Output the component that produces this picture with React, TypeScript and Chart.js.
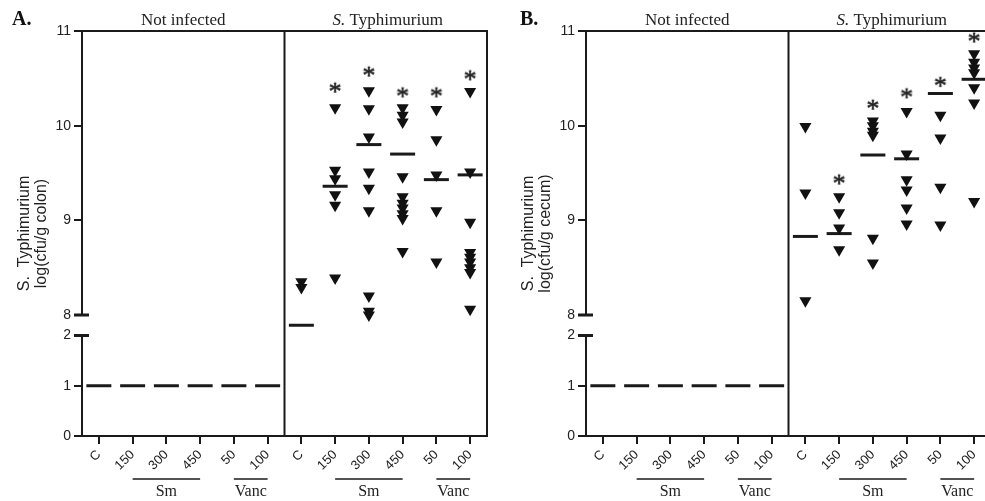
import React, { useEffect, useRef } from 'react';
import { Chart, registerables } from 'chart.js';

Chart.register(...registerables);

// ---------- data ----------
const categories = ['C', '150', '300', '450', '50', '100'];
const xTickLabels = [...categories, ...categories];
const yTickValues = [0, 1, 2, 8, 9, 10, 11];
const yTickLabels = ['0', '1', '2', '8', '9', '10', '11'];
const drugNames = ['Sm', 'Vanc'];
const drugSpans = [[1, 3], [4, 5]];
const groupTitles = ['Not infected', 'Typhimurium'];
const notInfectedMeans = [1, 1, 1, 1, 1, 1];

const colonPoints = [
  [8.35, 8.29],
  [10.19, 9.53, 9.44, 9.27, 9.16, 8.39],
  [10.37, 10.18, 9.88, 9.51, 9.34, 9.1, 8.2, 8.04, 8.0],
  [10.19, 10.11, 10.04, 9.46, 9.25, 9.18, 9.13, 9.07, 9.02, 8.67],
  [10.17, 9.85, 9.48, 9.1, 8.56],
  [10.36, 9.51, 8.98, 8.66, 8.61, 8.56, 8.5, 8.45, 8.06],
];
const colonMeans = [5.0, 9.36, 9.8, 9.7, 9.43, 9.48];
const colonStars = [null, 10.4, 10.57, 10.35, 10.35, 10.53];

const cecumPoints = [
  [9.99, 9.29, 8.15],
  [9.25, 9.08, 8.92, 8.69],
  [10.05, 10.0, 9.94, 9.9, 8.81, 8.55],
  [10.15, 9.7, 9.43, 9.32, 9.13, 8.96],
  [10.11, 9.87, 9.35, 8.95],
  [10.76, 10.67, 10.61, 10.56, 10.4, 10.24, 9.2],
];
const cecumMeans = [8.83, 8.86, 9.69, 9.65, 10.34, 10.49];
const cecumStars = [null, 9.43, 10.22, 10.34, 10.46, 10.93];

// ---------- broken axis transform ----------
const LOW = 0.5308;
const GAP = 0.2165;
function toT(v: number): number {
  if (v <= 2) return v * LOW;
  if (v < 8) return 2 * LOW + ((v - 2) / 6) * GAP;
  return 2 * LOW + GAP + (v - 8);
}
const TOP_T = toT(11);

const INK = '#1a1a1a';
const SANS = '"Liberation Sans", Arial, sans-serif';
const SERIF = '"Liberation Serif", "Times New Roman", serif';

function makeStar(): HTMLCanvasElement {
  const c = document.createElement('canvas');
  c.width = 24;
  c.height = 24;
  const g = c.getContext('2d')!;
  g.font = `26px ${SERIF}`;
  g.fillStyle = '#1a1a1a';
  g.strokeStyle = '#1a1a1a';
  g.lineWidth = 0.6;
  g.textAlign = 'center';
  g.textBaseline = 'alphabetic';
  const m = g.measureText('*');
  const yy = 12 + (m.actualBoundingBoxAscent - m.actualBoundingBoxDescent) / 2;
  g.fillText('*', 12, yy);
  g.strokeText('*', 12, yy);
  return c;
}

function buildDatasets(points: number[][], means: number[], stars: (number | null)[], star: HTMLCanvasElement) {
  const tri: { x: number; y: number }[] = [];
  points.forEach((arr, i) => arr.forEach((v) => tri.push({ x: i + 6, y: toT(v) })));
  const meanPts = means.map((v, i) => ({ x: i + 6, y: toT(v) }));
  const niPts = notInfectedMeans.map((v, i) => ({ x: i, y: toT(v) }));
  const starPts: { x: number; y: number }[] = [];
  stars.forEach((v, i) => {
    if (v != null) starPts.push({ x: i + 6, y: toT(v) });
  });
  const lineStyle = {
    pointStyle: 'line',
    pointRadius: 12.5,
    pointBorderWidth: 3,
    pointBorderColor: INK,
    pointBackgroundColor: INK,
  };
  return [
    {
      data: tri,
      pointStyle: 'triangle',
      pointRotation: 180,
      pointRadius: 7,
      pointBorderWidth: 0,
      pointBackgroundColor: '#111',
      pointBorderColor: '#111',
    },
    { data: meanPts, ...lineStyle },
    { data: niPts, ...lineStyle },
    { data: starPts, pointStyle: star, pointRadius: 5, pointBorderWidth: 0 },
  ];
}

function makeDecor(letter: string, letterX: number, yTitle: string[]) {
  return {
    id: 'decor',
    afterDraw(chart: any) {
      const { ctx, chartArea: ca } = chart;
      const xs = chart.scales.x;
      const ys = chart.scales.y;
      const yp = (v: number) => ys.getPixelForValue(toT(v));
      const xp = (i: number) => xs.getPixelForValue(i);
      const seg = (x1: number, y1: number, x2: number, y2: number) => {
        ctx.beginPath();
        ctx.moveTo(x1, y1);
        ctx.lineTo(x2, y2);
        ctx.stroke();
      };
      ctx.save();
      ctx.strokeStyle = INK;
      ctx.fillStyle = '#222';
      ctx.lineWidth = 2;
      seg(ca.left, ca.top - 1, ca.left, yp(8));
      seg(ca.left, yp(2), ca.left, ca.bottom + 1);
      seg(ca.left, ca.top, ca.right + 1, ca.top);
      seg(ca.left - 1, ca.bottom, ca.right + 1, ca.bottom);
      seg(ca.right, ca.top - 1, ca.right, ca.bottom + 1);
      seg(xp(5.5), ca.top, xp(5.5), ca.bottom);
      ctx.lineWidth = 3;
      [8, 2].forEach((v) => seg(ca.left - 8, yp(v), ca.left + 7, yp(v)));

      // drug group lines and labels
      ctx.lineWidth = 1.5;
      ctx.font = `16px ${SERIF}`;
      ctx.textAlign = 'center';
      ctx.textBaseline = 'alphabetic';
      for (let h = 0; h < 2; h++) {
        drugSpans.forEach(([a, b], k) => {
          const x1 = xp(a + 6 * h);
          const x2 = xp(b + 6 * h);
          seg(x1, 479, x2, 479);
          ctx.fillText(drugNames[k], (x1 + x2) / 2, 496);
        });
      }

      // group titles
      ctx.font = `17px ${SERIF}`;
      ctx.fillText(groupTitles[0], xp(2.5), 25);
      const cx = xp(8.5) + 2;
      ctx.font = `italic 17px ${SERIF}`;
      const w1 = ctx.measureText('S.').width;
      ctx.font = `17px ${SERIF}`;
      const w2 = ctx.measureText(' ' + groupTitles[1]).width;
      const sx = cx - (w1 + w2) / 2;
      ctx.textAlign = 'left';
      ctx.font = `italic 17px ${SERIF}`;
      ctx.fillText('S.', sx, 25);
      ctx.font = `17px ${SERIF}`;
      ctx.fillText(' ' + groupTitles[1], sx + w1, 25);

      // panel letter
      ctx.font = `bold 20px ${SERIF}`;
      ctx.fillStyle = '#111';
      ctx.fillText(letter, letterX, 25);

      // y title
      ctx.fillStyle = '#222';
      ctx.font = `16px ${SANS}`;
      ctx.textAlign = 'center';
      ctx.textBaseline = 'middle';
      const cy = (ca.top + ca.bottom) / 2;
      const offs = [-57, -40];
      yTitle.forEach((t, i) => {
        ctx.save();
        ctx.translate(ca.left + offs[i], cy);
        ctx.rotate(-Math.PI / 2);
        ctx.fillText(t, 0, 0);
        ctx.restore();
      });
      ctx.restore();
    },
  };
}

type PanelProps = {
  left: number;
  width: number;
  axisWidth: number;
  letter: string;
  letterX: number;
  yTitle: string[];
  points: number[][];
  means: number[];
  stars: (number | null)[];
};

function Panel(p: PanelProps) {
  const ref = useRef<HTMLCanvasElement>(null);
  useEffect(() => {
    const canvas = ref.current!;
    const star = makeStar();
    const chart = new Chart(canvas, {
      type: 'scatter',
      data: { datasets: buildDatasets(p.points, p.means, p.stars, star) as any },
      options: {
        responsive: false,
        animation: false,
        events: [],
        layout: { autoPadding: false, padding: { left: 0, right: 6, top: 31, bottom: 0 } },
        plugins: { legend: { display: false }, tooltip: { enabled: false } },
        scales: {
          x: {
            type: 'linear',
            min: -0.5,
            max: 11.5,
            afterBuildTicks: (s: any) => {
              s.ticks = xTickLabels.map((_, i) => ({ value: i }));
            },
            afterFit: (s: any) => {
              s.height = 65;
              s.paddingLeft = 0;
              s.paddingRight = 0;
            },
            border: { display: false },
            grid: { drawOnChartArea: false, drawTicks: true, tickLength: 8, lineWidth: 2, color: INK },
            ticks: {
              autoSkip: false,
              minRotation: 45,
              maxRotation: 45,
              padding: 3,
              color: '#222',
              font: { family: SANS, size: 13 },
              callback: (_v: any, i: number) => xTickLabels[i],
            },
          },
          y: {
            type: 'linear',
            min: 0,
            max: TOP_T,
            afterBuildTicks: (s: any) => {
              s.ticks = yTickValues.map((v) => ({ value: toT(v) }));
            },
            afterFit: (s: any) => {
              s.width = p.axisWidth;
              s.paddingTop = 0;
              s.paddingBottom = 0;
            },
            border: { display: false },
            grid: { drawOnChartArea: false, drawTicks: true, tickLength: 8, lineWidth: 2, color: INK },
            ticks: {
              autoSkip: false,
              padding: 3,
              color: '#222',
              font: { family: SANS, size: 14 },
              callback: (_v: any, i: number) => yTickLabels[i],
            },
          },
        },
      },
      plugins: [makeDecor(p.letter, p.letterX, p.yTitle)],
    } as any);
    return () => chart.destroy();
  }, []);
  return (
    <canvas
      ref={ref}
      width={p.width}
      height={501}
      style={{ position: 'absolute', left: p.left, top: 0, width: p.width, height: 501, display: 'block' }}
    />
  );
}

export default function App() {
  return (
    <div
      style={{
        position: 'fixed',
        left: 0,
        top: 0,
        width: 985,
        height: 501,
        overflow: 'hidden',
        background: '#fff',
      }}
    >
      <Panel
        left={0}
        width={493}
        axisWidth={82}
        letter="A."
        letterX={12}
        yTitle={['S.  Typhimurium', 'log(cfu/g colon)']}
        points={colonPoints}
        means={colonMeans}
        stars={colonStars}
      />
      <Panel
        left={493}
        width={504}
        axisWidth={93}
        letter="B."
        letterX={27}
        yTitle={['S.  Typhimurium', 'log(cfu/g cecum)']}
        points={cecumPoints}
        means={cecumMeans}
        stars={cecumStars}
      />
    </div>
  );
}
